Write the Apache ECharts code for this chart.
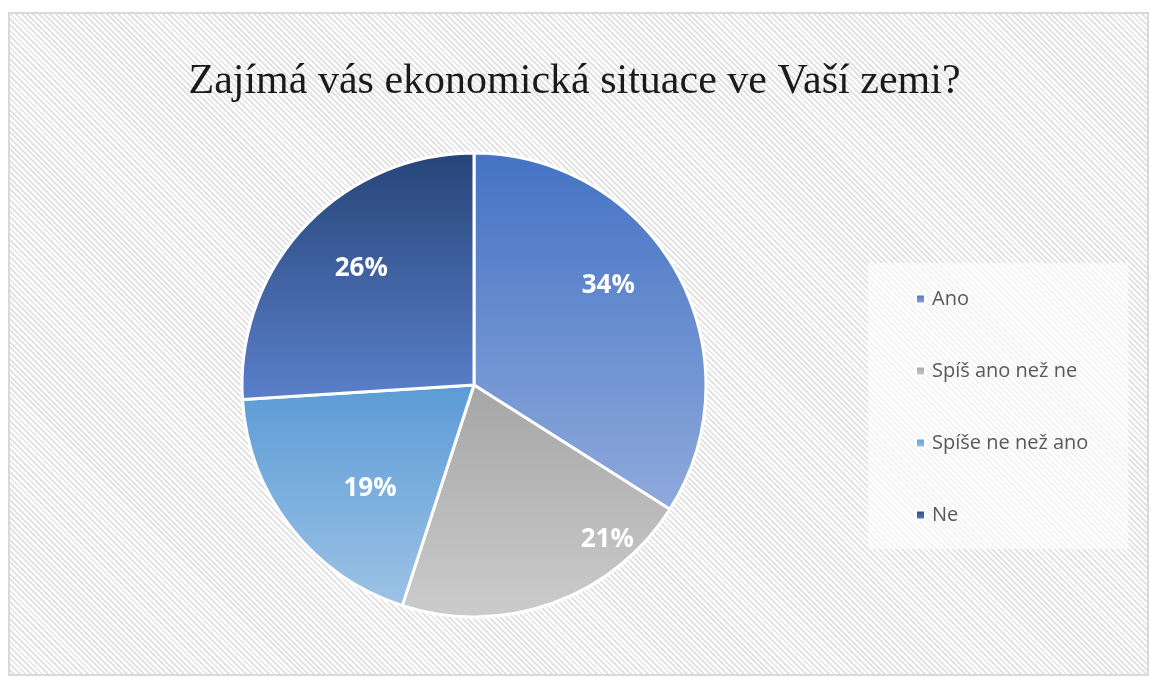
<!DOCTYPE html>
<html>
<head>
<meta charset="utf-8">
<script src="https://cdn.jsdelivr.net/npm/echarts@6/dist/echarts.min.js"></script>
<style>
  html, body { margin: 0; padding: 0; background: #fff; }
  #frame {
    position: absolute; left: 8px; top: 12px; width: 1141px; height: 664px;
    box-sizing: border-box; border: 2px solid #d9d9d9;
    background: repeating-linear-gradient(45deg, #ffffff 0 2px, #e4e4e4 2px 4px);
  }
  #pieChart { position: absolute; left: 0; top: 0; width: 1149px; height: 678px; }
</style>
</head>
<body>
<div id="frame"></div>
<div id="pieChart"></div>
<script>
const categories = ['Ano', 'Spíš ano než ne', 'Spíše ne než ano', 'Ne']
const values = [34, 21, 19, 26]
const colorTop = ['#4472C4', '#A5A5A5', '#5B9BD5', '#264478']
const colorBottom = ['#8FAADC', '#CCCCCC', '#9DC3E6', '#5B80CB']

function grad (i) {
  return new echarts.graphic.LinearGradient(0, 0, 0, 1, [
    { offset: 0, color: colorTop[i] },
    { offset: 1, color: colorBottom[i] }
  ])
}

const chart = echarts.init(document.getElementById('pieChart'))
// Excel "best fit" label spots, shifted from the ECharts inside spot
const labelShift = [[30, -42], [93, 43], [-10, 31], [-26, -35]]

const option = {
  animation: false,
  title: {
    text: 'Zajímá vás ekonomická situace ve Vaší zemi?',
    left: 'center',
    top: 56,
    textStyle: {
      fontFamily: 'Liberation Serif',
      fontWeight: 'normal',
      fontSize: 42,
      color: '#1a1a1a'
    }
  },
  legend: {
    orient: 'vertical',
    left: 868,
    top: 263,
    padding: [26, 40, 24, 47],
    backgroundColor: 'rgba(255,255,255,0.6)',
    itemWidth: 9,
    itemHeight: 9,
    itemGap: 52,
    icon: 'rect',
    textStyle: {
      fontFamily: 'Open Sans',
      fontSize: 20,
      color: '#595959',
      padding: [0, 0, 0, 2]
    },
    data: categories
  },
  series: [{
    type: 'pie',
    center: [474, 385],
    radius: 232,
    startAngle: 90,
    clockwise: true,
    emphasis: { disabled: true },
    itemStyle: { borderColor: '#fff', borderWidth: 3 },
    label: {
      position: 'inside',
      color: '#fff',
      fontFamily: 'Open Sans',
      fontWeight: 'bold',
      fontSize: 26,
      formatter: p => Math.round(p.percent) + '%'
    },
    labelLayout: p => ({ dx: labelShift[p.dataIndex][0], dy: labelShift[p.dataIndex][1] }),
    data: categories.map((name, i) => ({
      name: name,
      value: values[i],
      itemStyle: { color: grad(i) }
    }))
  }]
}
chart.setOption(option)
</script>
</body>
</html>
